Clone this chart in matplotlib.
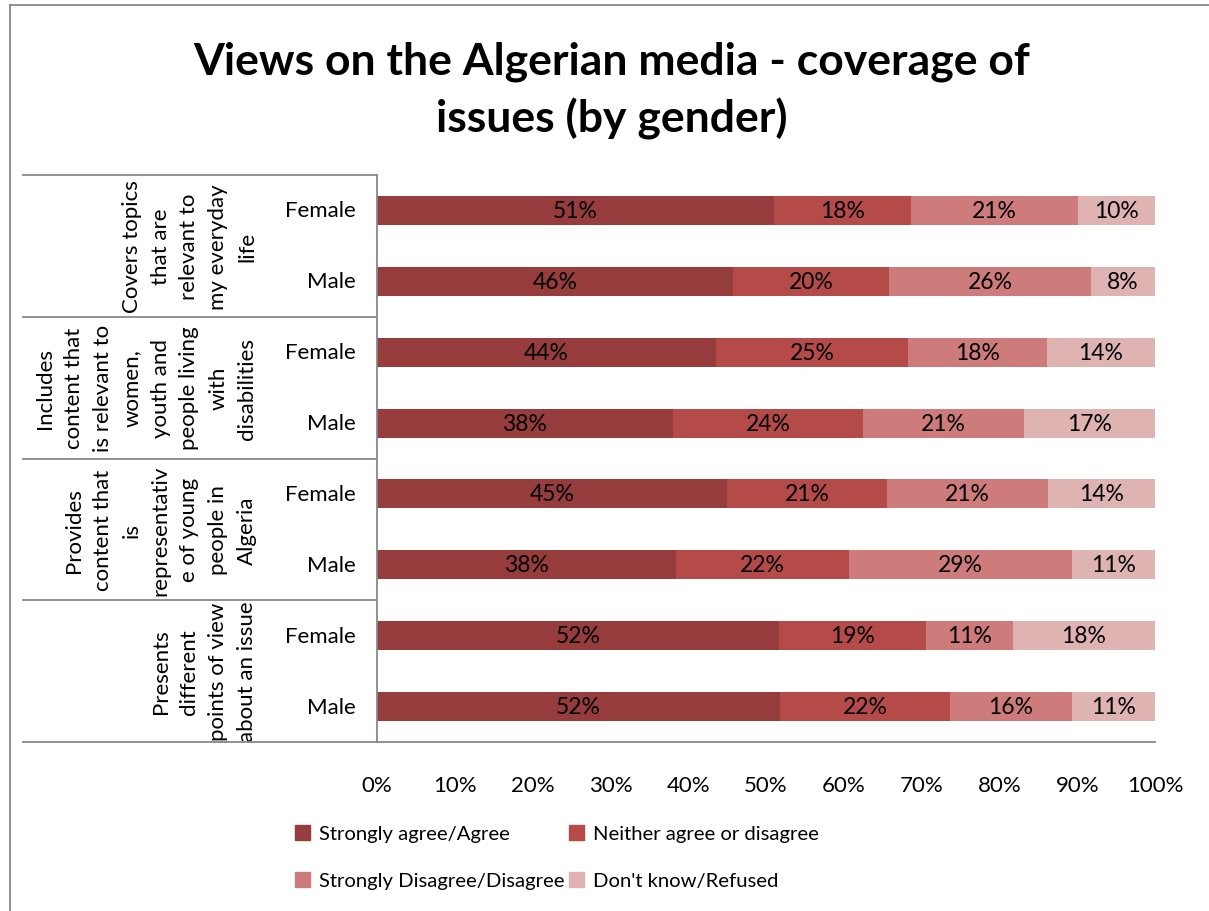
import matplotlib
matplotlib.use("Agg")
import matplotlib.pyplot as plt
import matplotlib.transforms as mtransforms
from matplotlib.patches import Rectangle
from matplotlib.lines import Line2D
import numpy as np

plt.rcParams['font.family'] = ['Lato', 'DejaVu Sans']

title = "Views on the Algerian media - coverage of\nissues (by gender)"
groups = [
    "Covers topics\nthat are\nrelevant to\nmy everyday\nlife",
    "Includes\ncontent that\nis relevant to\nwomen,\nyouth and\npeople living\nwith\ndisabilities",
    "Provides\ncontent that\nis\nrepresentativ\ne of young\npeople in\nAlgeria",
    "Presents\ndifferent\npoints of view\nabout an issue",
]
genders = ["Female", "Male"]
series = ["Strongly agree/Agree", "Neither agree or disagree",
          "Strongly Disagree/Disagree", "Don't know/Refused"]
colors = ["#963C3C", "#B54B49", "#CD7C7B", "#E0B3B3"]

# order: G1 Female, G1 Male, G2 Female, G2 Male, ...
agree    = [51.0, 45.8, 43.6, 38.0, 45.0, 38.4, 51.7, 51.8]
neither  = [17.7, 20.0, 24.6, 24.5, 20.6, 22.3, 18.9, 21.9]
disagree = [21.4, 26.0, 17.9, 20.7, 20.6, 28.6, 11.1, 15.6]
dontknow = [9.9, 8.2, 13.9, 16.8, 13.8, 10.7, 18.3, 10.7]
xticks = [0, 10, 20, 30, 40, 50, 60, 70, 80, 90, 100]

W, H = 1209, 912
FS = 16
fig = plt.figure(figsize=(W / 100, H / 100), dpi=100)
ax = fig.add_axes([377 / W, 1 - 743 / H, (1155 - 377) / W, (743 - 176) / H])

data = [agree, neither, disagree, dontknow]
n = len(agree)
y = np.arange(n)
left = np.zeros(n)
handles = []
for vals, col, name in zip(data, colors, series):
    vals = np.array(vals)
    ax.barh(y, vals, left=left, height=0.41, color=col, label=name,
            edgecolor='none')
    handles.append(Rectangle((0, 0), 1, 1, color=col))
    for yi, l, v in zip(y, left, vals):
        ax.text(l + v / 2, yi, f"{round(v):.0f}%", ha='center', va='center',
                fontsize=16.5, color='black')
    left += vals

ax.set_xlim(0, 100)
ax.set_ylim(n - 0.5, -0.5)
ax.set_yticks([])
ax.set_xticks(xticks)
ax.set_xticklabels([f"{t}%" for t in xticks], fontsize=FS)
ax.tick_params(axis='x', length=0, pad=24)
for s in ['top', 'right', 'bottom']:
    ax.spines[s].set_visible(False)
ax.spines['left'].set_color('#888888')
ax.spines['left'].set_linewidth(1.3)


def fx(px):
    return px / W


def fy(py):
    return 1 - py / H


line_kw = dict(color='#888888', linewidth=1.3, transform=fig.transFigure)
for yy in [176, 318, 460, 601]:
    fig.add_artist(Line2D([fx(23), fx(377)], [fy(yy), fy(yy)], **line_kw))
fig.add_artist(Line2D([fx(23), fx(1155)], [fy(743), fy(743)], **line_kw))

blend = mtransforms.blended_transform_factory(fig.transFigure, ax.transData)

# gender labels
for i in range(n):
    ax.text(fx(356), i, genders[i % 2], transform=blend,
            ha='right', va='center', fontsize=FS)

# group labels
for g, lab in enumerate(groups):
    ycen = 2 * g + 0.5
    ax.text(fx(257), ycen, lab, transform=blend,
            rotation=90, ha='right', va='center', multialignment='center',
            fontsize=FS, linespacing=1.55)

# outer chart border
fig.add_artist(Line2D([fx(10), fx(10)], [fy(6), fy(912)], **line_kw))
fig.add_artist(Line2D([fx(10), fx(1209)], [fy(6), fy(6)], **line_kw))

fig.text(fx(612), fy(91), title, ha='center', va='center', fontsize=32,
         fontweight='bold', linespacing=1.45)

order = [0, 2, 1, 3]
fig.legend([handles[i] for i in order], [series[i] for i in order],
           loc='center left', bbox_to_anchor=(fx(295), fy(858)),
           ncol=2, frameon=False, fontsize=14.6, handlelength=0.75,
           handleheight=0.75, handletextpad=0.45, columnspacing=0.2,
           labelspacing=1.45, borderpad=0, borderaxespad=0)

fig.savefig("out.png", dpi=100)
